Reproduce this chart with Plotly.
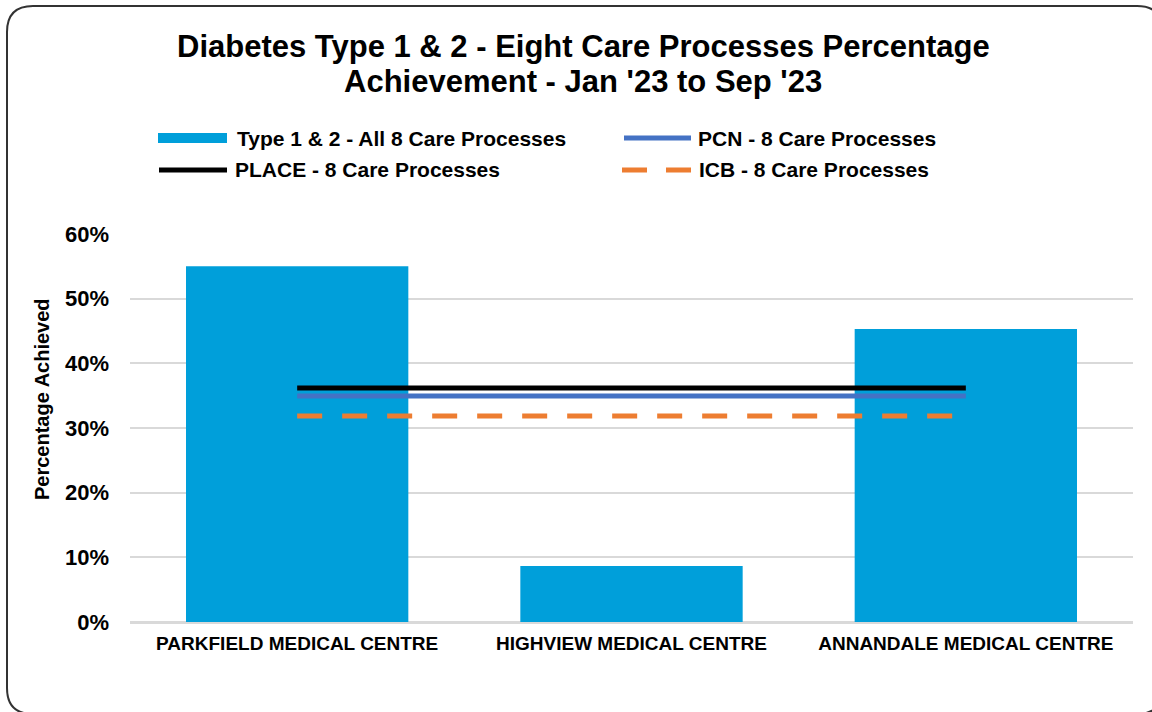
import plotly.graph_objects as go

# ---- data ----
categories = ["PARKFIELD MEDICAL CENTRE", "HIGHVIEW MEDICAL CENTRE", "ANNANDALE MEDICAL CENTRE"]
practice_values = [0.550, 0.0866, 0.453]
pcn_values = [0.3495, 0.3495, 0.3495]
place_values = [0.362, 0.362, 0.362]
icb_values = [0.3186, 0.3186, 0.3186]
y_ticks = [0, 0.1, 0.2, 0.3, 0.4, 0.5, 0.6]

title_lines = ["Diabetes Type 1 & 2 - Eight Care Processes Percentage",
               "Achievement - Jan '23 to Sep '23"]
series_names = ["Type 1 & 2 - All 8 Care Processes", "PCN - 8 Care Processes",
                "PLACE - 8 Care Processes", "ICB - 8 Care Processes"]

# ---- layout geometry (pixels) ----
W, H = 1152, 712
L, R, T, B = 130, 1133, 234, 622
FONT = "Liberation Sans, Arial, sans-serif"
BAR_COLOR = "#009FDA"
PCN_COLOR = "#4472C4"
PLACE_COLOR = "#000000"
ICB_COLOR = "#ED7D31"


def px(x):
    return (x - L) / (R - L)


def py(y):
    return (B - y) / (B - T)


fig = go.Figure()
fig.add_trace(go.Bar(x=categories, y=practice_values, name=series_names[0],
                     marker=dict(color=BAR_COLOR, line=dict(width=0)), width=0.665))
fig.add_trace(go.Scatter(x=categories, y=icb_values, name=series_names[3], mode="lines",
                         line=dict(color=ICB_COLOR, width=5, dash="25px,20px")))
fig.add_trace(go.Scatter(x=categories, y=pcn_values, name=series_names[1], mode="lines",
                         line=dict(color=PCN_COLOR, width=5)))
fig.add_trace(go.Scatter(x=categories, y=place_values, name=series_names[2], mode="lines",
                         line=dict(color=PLACE_COLOR, width=5)))

shapes = []
# rounded outer border
bl, bt, br, bb, rr = 7, 6, 1163, 714, 26
def P(x, y):
    return f"{px(x):.5f},{py(y):.5f}"
path = (f"M {P(bl+rr, bt)} L {P(br-rr, bt)} Q {P(br, bt)} {P(br, bt+rr)} "
        f"L {P(br, bb-rr)} Q {P(br, bb)} {P(br-rr, bb)} L {P(bl+rr, bb)} "
        f"Q {P(bl, bb)} {P(bl, bb-rr)} L {P(bl, bt+rr)} Q {P(bl, bt)} {P(bl+rr, bt)} Z")
shapes.append(dict(type="path", xref="paper", yref="paper", path=path,
                   line=dict(color="#333333", width=2), layer="above"))

# legend swatches
shapes.append(dict(type="rect", xref="paper", yref="paper", x0=px(158), x1=px(227),
                   y0=py(143), y1=py(133), fillcolor=BAR_COLOR, line=dict(width=0)))
shapes.append(dict(type="line", xref="paper", yref="paper", x0=px(624), x1=px(691),
                   y0=py(138), y1=py(138), line=dict(color=PCN_COLOR, width=5)))
shapes.append(dict(type="line", xref="paper", yref="paper", x0=px(159), x1=px(227),
                   y0=py(170), y1=py(170), line=dict(color=PLACE_COLOR, width=5)))
shapes.append(dict(type="line", xref="paper", yref="paper", x0=px(622), x1=px(691),
                   y0=py(170), y1=py(170), line=dict(color=ICB_COLOR, width=5, dash="25px,19px")))

title_font = dict(family=FONT, size=31, color="#000000", weight="bold")
legend_font = dict(family=FONT, size=21, color="#000000", weight="bold")
annotations = [
    dict(text=title_lines[0], xref="paper", yref="paper", x=px(583), y=py(47),
         xanchor="center", yanchor="middle", showarrow=False, font=title_font),
    dict(text=title_lines[1], xref="paper", yref="paper", x=px(583), y=py(81),
         xanchor="center", yanchor="middle", showarrow=False, font=title_font),
    dict(text=series_names[0], xref="paper", yref="paper", x=px(235), y=py(138),
         xanchor="left", yanchor="middle", showarrow=False, font=legend_font),
    dict(text=series_names[1], xref="paper", yref="paper", x=px(696), y=py(138),
         xanchor="left", yanchor="middle", showarrow=False, font=legend_font),
    dict(text=series_names[2], xref="paper", yref="paper", x=px(233), y=py(170),
         xanchor="left", yanchor="middle", showarrow=False, font=legend_font),
    dict(text=series_names[3], xref="paper", yref="paper", x=px(697), y=py(170),
         xanchor="left", yanchor="middle", showarrow=False, font=legend_font),
    dict(text="Percentage Achieved", xref="paper", yref="paper", x=px(42), y=py(399),
         xanchor="center", yanchor="middle", textangle=-90, showarrow=False,
         font=dict(family=FONT, size=20, color="#000000", weight="bold")),
]

fig.update_layout(
    width=W, height=H,
    margin=dict(l=L, r=W - R, t=T, b=H - B, pad=0),
    paper_bgcolor="white", plot_bgcolor="white",
    showlegend=False,
    shapes=shapes, annotations=annotations,
    bargap=0.335,
    xaxis=dict(tickfont=dict(family=FONT, size=19, color="#000000", weight="bold"),
               showgrid=False, showline=False, ticks="", ticklabelstandoff=8),
    yaxis=dict(range=[0, 0.6], tickvals=y_ticks, tickformat=".0%",
               tickfont=dict(family=FONT, size=22, color="#000000", weight="bold"),
               showgrid=True, gridcolor="#D9D9D9", gridwidth=2,
               zeroline=True, zerolinecolor="#D9D9D9", zerolinewidth=2.5,
               showline=False, ticks="", ticklabelstandoff=20, fixedrange=True),
)

fig.write_html("out.html", config={"displayModeBar": False},
               post_script="document.body.style.margin='0';")
